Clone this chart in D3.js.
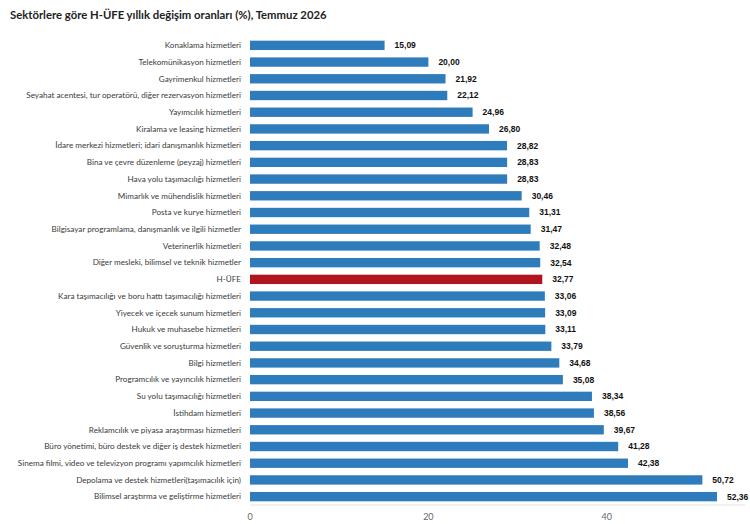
<!DOCTYPE html>
<html>
<head>
<meta charset="utf-8">
<script src="https://cdn.jsdelivr.net/npm/d3@7"></script>
<style>
  body { margin: 0; background: #fff; }
</style>
</head>
<body>
<div id="chart"></div>
<script>
// Chart size
var width = 750,
    height = 524;

var margin = { top: 37, right: 5, bottom: 19, left: 250 };

// Data
var categories = [
    "Konaklama hizmetleri",
    "Telekomünikasyon hizmetleri",
    "Gayrimenkul hizmetleri",
    "Seyahat acentesi, tur operatörü, diğer rezervasyon hizmetleri",
    "Yayımcılık hizmetleri",
    "Kiralama ve leasing hizmetleri",
    "İdare merkezi hizmetleri; idari danışmanlık hizmetleri",
    "Bina ve çevre düzenleme (peyzaj) hizmetleri",
    "Hava yolu taşımacılığı hizmetleri",
    "Mimarlık ve mühendislik hizmetleri",
    "Posta ve kurye hizmetleri",
    "Bilgisayar programlama, danışmanlık ve ilgili hizmetler",
    "Veterinerlik hizmetleri",
    "Diğer mesleki, bilimsel ve teknik hizmetler",
    "H-ÜFE",
    "Kara taşımacılığı ve boru hattı taşımacılığı hizmetleri",
    "Yiyecek ve içecek sunum hizmetleri",
    "Hukuk ve muhasebe hizmetleri",
    "Güvenlik ve soruşturma hizmetleri",
    "Bilgi hizmetleri",
    "Programcılık ve yayıncılık hizmetleri",
    "Su yolu taşımacılığı hizmetleri",
    "İstihdam hizmetleri",
    "Reklamcılık ve piyasa araştırması hizmetleri",
    "Büro yönetimi, büro destek ve diğer iş destek hizmetleri",
    "Sinema filmi, video ve televizyon programı yapımcılık hizmetleri",
    "Depolama ve destek hizmetleri(taşımacılık için)",
    "Bilimsel araştırma ve geliştirme hizmetleri"
];

var values = [15.09, 20.00, 21.92, 22.12, 24.96, 26.80, 28.82, 28.83, 28.83, 30.46,
    31.31, 31.47, 32.48, 32.54, 32.77, 33.06, 33.09, 33.11, 33.79, 34.68,
    35.08, 38.34, 38.56, 39.67, 41.28, 42.38, 50.72, 52.36];

var highlight = "H-ÜFE";
var xTicks = [0, 20, 40];

var data = categories.map((c, i) => ({ name: c, value: values[i] }));

var svg = d3.select("#chart")
    .append("svg")
    .attr("width", width)
    .attr("height", height)
    .style("font-family", "Lato, 'Open Sans', sans-serif");

// Title
svg.append("text")
    .attr("x", 10)
    .attr("y", 19)
    .style("font-size", "11.3px")
    .style("font-weight", "700")
    .style("fill", "#222")
    .text("Sektörlere göre H-ÜFE yıllık değişim oranları (%), Temmuz 2026");

// Scales
var x = d3.scaleLinear()
    .domain([0, 55.5])
    .range([margin.left, width - margin.right]);

var y = d3.scaleBand()
    .domain(categories)
    .range([margin.top, height - margin.bottom])
    .paddingInner(0.44)
    .paddingOuter(0.22);

// x axis baseline + ticks
var axisY = height - margin.bottom;
svg.append("line")
    .attr("x1", x(0))
    .attr("x2", x.range()[1])
    .attr("y1", axisY)
    .attr("y2", axisY)
    .attr("stroke", "#e3e3e3")
    .attr("stroke-width", 1);

svg.append("g")
    .selectAll("text")
    .data(xTicks)
    .enter()
    .append("text")
    .attr("x", d => x(d))
    .attr("y", axisY + 15)
    .attr("text-anchor", "middle")
    .style("font-size", "9px")
    .style("fill", "#666")
    .text(d => d);

// Bars
svg.append("g")
    .selectAll("rect")
    .data(data)
    .enter()
    .append("rect")
    .attr("x", x(0))
    .attr("y", d => y(d.name))
    .attr("width", d => x(d.value) - x(0))
    .attr("height", y.bandwidth())
    .attr("fill", d => d.name === highlight ? "#b0151d" : "#2f7cbd");

// Category labels
svg.append("g")
    .selectAll("text")
    .data(data)
    .enter()
    .append("text")
    .attr("x", x(0) - 9)
    .attr("y", d => y(d.name) + y.bandwidth() / 2)
    .attr("dy", "0.35em")
    .attr("text-anchor", "end")
    .style("font-size", "8.15px")
    .style("fill", "#3a3a3a")
    .text(d => d.name);

// Value labels
svg.append("g")
    .selectAll("text")
    .data(data)
    .enter()
    .append("text")
    .attr("x", d => x(d.value) + 10)
    .attr("y", d => y(d.name) + y.bandwidth() / 2)
    .attr("dy", "0.35em")
    .style("font-family", "'Liberation Sans', Arial, sans-serif")
    .style("font-size", "8.5px")
    .style("font-weight", "700")
    .style("fill", "#111")
    .text(d => d.value.toFixed(2).replace(".", ","));
</script>
</body>
</html>
